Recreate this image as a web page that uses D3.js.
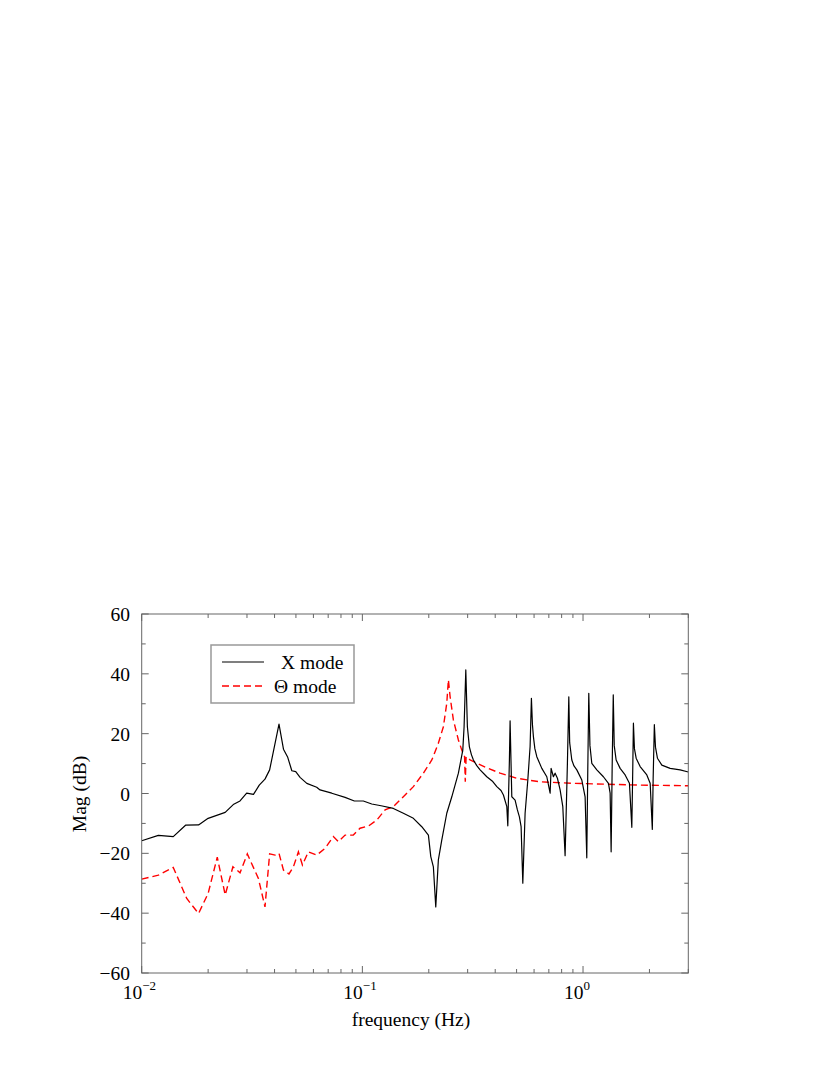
<!DOCTYPE html>
<html>
<head>
<meta charset="utf-8">
<script src="https://cdn.jsdelivr.net/npm/d3@7"></script>
<style>
  html, body { margin: 0; padding: 0; background: #fff; }
  svg { display: block; }
  text { font-family: "Liberation Serif", "Times New Roman", serif; fill: #000; }
</style>
</head>
<body>
<svg id="chart" width="830" height="1075"></svg>
<script>
// ---- data ----
const xModeFreq = [0.0100,0.0119,0.0139,0.0158,0.0181,0.0200,0.0239,0.0260,0.0279,0.0299,0.0321,0.0341,0.0362,0.0380,
  0.0419,0.0439,0.0459,0.0479,0.0499,0.0522,0.0560,0.0621,0.0643,0.0727,0.0835,0.0920,0.1010,0.1103,0.1216,0.1382,
  0.1534,0.1703,0.1859,0.1992,0.2042,0.2098,0.2151,0.2210,0.2290,0.2413,0.2543,0.2724,0.2852,0.2891,0.2943,0.2992,
  0.3055,0.3120,0.3186,0.3300,0.3417,0.3664,0.3900,0.4068,0.4250,0.4358,0.4515,0.4562,0.4639,0.4672,0.4756,0.4923,0.5042,0.5149,0.5241,0.5335,
  0.5464,0.5621,0.5757,0.5836,0.5900,0.5959,0.6050,0.6174,0.6505,0.6853,0.7094,0.7168,0.7342,0.7473,0.7656,0.7874,0.8098,0.8295,
  0.8497,0.8622,0.8700,0.8896,0.9100,0.9374,0.9876,1.022,1.040,1.051,1.062,1.075,1.096,1.155,1.237,1.304,1.327,1.341,1.355,1.371,1.385,1.413,
  1.473,1.552,1.623,1.664,1.678,1.692,1.710,1.741,1.815,1.946,2.015,2.061,2.079,2.105,2.130,2.174,2.276,2.482,2.755,3.0];
const xModeMag = [-15.8,-14.0,-14.4,-10.6,-10.5,-8.3,-6.3,-3.7,-2.5,0.1,-0.3,2.8,4.8,7.9,
  23.2,14.8,12.1,7.6,7.3,5.4,3.4,2.1,1.2,0.1,-1.3,-2.5,-2.5,-3.5,-4.1,-5.0,
  -6.6,-8.3,-11.1,-13.9,-21.1,-24.5,-37.9,-22.2,-15.6,-6.6,-1.1,6.8,14.5,22.3,41.3,22.3,
  15.6,13.0,11.2,9.3,7.9,5.6,4.0,2.3,1.0,-0.5,-4.4,-10.8,11.2,24.3,-1.1,-2.2,-5.5,-7.8,-11.1,-30.0,
  -6.6,4.5,15.7,31.8,23.0,19.0,15.0,12.3,8.4,5.6,0.1,8.4,5.6,6.8,5.1,1.2,-4.4,-20.8,
  10.1,32.3,17.0,11.2,9.2,7.9,4.5,-1.1,-21.5,8.0,33.5,16.0,10.1,7.9,5.6,3.4,0.1,-19.5,8.0,33.0,16.0,11.2,
  8.4,6.2,3.4,-11.3,5.0,23.5,15.0,11.8,9.0,6.2,3.4,-12.0,5.0,23.0,15.5,11.8,9.5,8.4,7.9,7.2];

const thetaModeFreq = [0.0100,0.0119,0.0139,0.0160,0.0181,0.0200,0.0220,0.0239,0.0259,0.0279,0.0301,0.0338,0.0362,0.0380,
  0.0402,0.0419,0.0439,0.0465,0.0487,0.0513,0.0535,0.0569,0.0621,0.0678,0.0739,0.0778,0.0835,0.0910,0.0976,0.1065,
  0.1162,0.1267,0.1382,0.1534,0.1703,0.1890,0.2064,0.2210,0.2329,0.2413,0.2454,0.2498,0.2585,0.2724,0.2822,0.2906,
  0.2927,0.2952,0.3078,0.3302,0.3664,0.4210,0.5011,0.6391,0.9047,1.282,1.815,3.0];
const thetaModeMag = [-28.6,-27.3,-24.7,-35.1,-40.1,-33.4,-21.3,-33.9,-24.5,-26.5,-20.2,-28.4,-37.9,-20.2,
  -20.6,-20.0,-25.6,-26.9,-24.5,-19.5,-23.9,-19.5,-20.6,-18.3,-14.4,-16.1,-13.9,-13.9,-11.6,-10.9,
  -8.9,-5.5,-4.4,-1.1,2.3,6.8,11.2,16.8,22.3,30.2,38.0,32.4,24.6,17.9,14.5,12.3,
  3.9,12.3,11.2,10.1,8.6,6.8,5.1,3.9,3.4,3.1,2.8,2.6];

const yTicks = [-60,-40,-20,0,20,40,60];
const xTickExps = [-2,-1,0];
const legendLabels = ["X mode", "\u0398 mode"];

// ---- layout ----
const svg = d3.select("#chart");
const L = 141.7, R = 688.3, T = 614, B = 973;
const axisColor = "#666";
const FS = 19.5;

const x = d3.scaleLog().domain([0.01, 3.0]).range([L, R]);
const y = d3.scaleLinear().domain([-60, 60]).range([B, T]);

// series
const line = d3.line().x(d => x(d[0])).y(d => y(d[1]));
const xData = xModeFreq.map((f, i) => [f, xModeMag[i]]);
const tData = thetaModeFreq.map((f, i) => [f, thetaModeMag[i]]);

svg.append("clipPath").attr("id", "clip")
  .append("rect").attr("x", L).attr("y", T).attr("width", R - L).attr("height", B - T);

const plot = svg.append("g").attr("clip-path", "url(#clip)");
plot.append("path").datum(tData).attr("d", line)
  .attr("fill", "none").attr("stroke", "#ff0000").attr("stroke-width", 1.4)
  .attr("stroke-dasharray", "7,4");
plot.append("path").datum(xData).attr("d", line)
  .attr("fill", "none").attr("stroke", "#000").attr("stroke-width", 1.2)
  .attr("stroke-linejoin", "round");

// ticks
const minorX = [];
for (let e = -2; e <= 0; e++) for (let m = 2; m <= 9; m++) {
  const v = m * Math.pow(10, e); if (v <= 3.0) minorX.push(v);
}
const majorX = xTickExps.map(e => Math.pow(10, e));
const minorY = d3.range(-50, 60, 20);

const axisG = svg.append("g").attr("stroke", axisColor).attr("stroke-width", 1);
function tick(x1, y1, x2, y2) {
  axisG.append("line").attr("x1", x1).attr("y1", y1).attr("x2", x2).attr("y2", y2);
}
majorX.forEach(v => { const px = x(v); tick(px, B, px, B - 7); tick(px, T, px, T + 7); });
minorX.forEach(v => { const px = x(v); tick(px, B, px, B - 4); tick(px, T, px, T + 4); });
yTicks.forEach(v => { const py = y(v); tick(L, py, L + 7, py); tick(R, py, R - 7, py); });
minorY.forEach(v => { const py = y(v); tick(L, py, L + 4, py); tick(R, py, R - 4, py); });

axisG.append("rect").attr("x", L).attr("y", T).attr("width", R - L).attr("height", B - T)
  .attr("fill", "none");

// tick labels
svg.append("g").selectAll("text").data(yTicks).join("text")
  .attr("x", 130).attr("y", d => y(d) + 7)
  .attr("text-anchor", "end").attr("font-size", FS)
  .text(d => d < 0 ? "\u2212" + Math.abs(d) : d);

const xl = svg.append("g");
xTickExps.forEach(e => {
  const px = x(Math.pow(10, e));
  xl.append("text").attr("x", px + 0.5).attr("y", 999).attr("text-anchor", "end")
    .attr("font-size", FS).text("10");
  xl.append("text").attr("x", px + 0.5).attr("y", 990).attr("text-anchor", "start")
    .attr("font-size", 13).text(e < 0 ? "\u2212" + Math.abs(e) : String(e));
});

// axis titles
svg.append("text").attr("x", 411).attr("y", 1026).attr("text-anchor", "middle")
  .attr("font-size", FS).text("frequency (Hz)");
svg.append("text").attr("transform", "translate(86,794) rotate(-90)")
  .attr("text-anchor", "middle").attr("font-size", FS).text("Mag (dB)");

// legend
const lg = svg.append("g");
lg.append("rect").attr("x", 211).attr("y", 645).attr("width", 143).attr("height", 58)
  .attr("fill", "#fff").attr("stroke", "#999").attr("stroke-width", 1.5);
lg.append("line").attr("x1", 222).attr("x2", 264).attr("y1", 662).attr("y2", 662)
  .attr("stroke", "#000").attr("stroke-width", 1.2);
lg.append("line").attr("x1", 222).attr("x2", 264).attr("y1", 686).attr("y2", 686)
  .attr("stroke", "#ff0000").attr("stroke-width", 1.4).attr("stroke-dasharray", "7,4");
lg.append("text").attr("x", 281).attr("y", 669).attr("font-size", FS).text(legendLabels[0]);
lg.append("text").attr("x", 274).attr("y", 693).attr("font-size", FS).text(legendLabels[1]);
</script>
</body>
</html>
